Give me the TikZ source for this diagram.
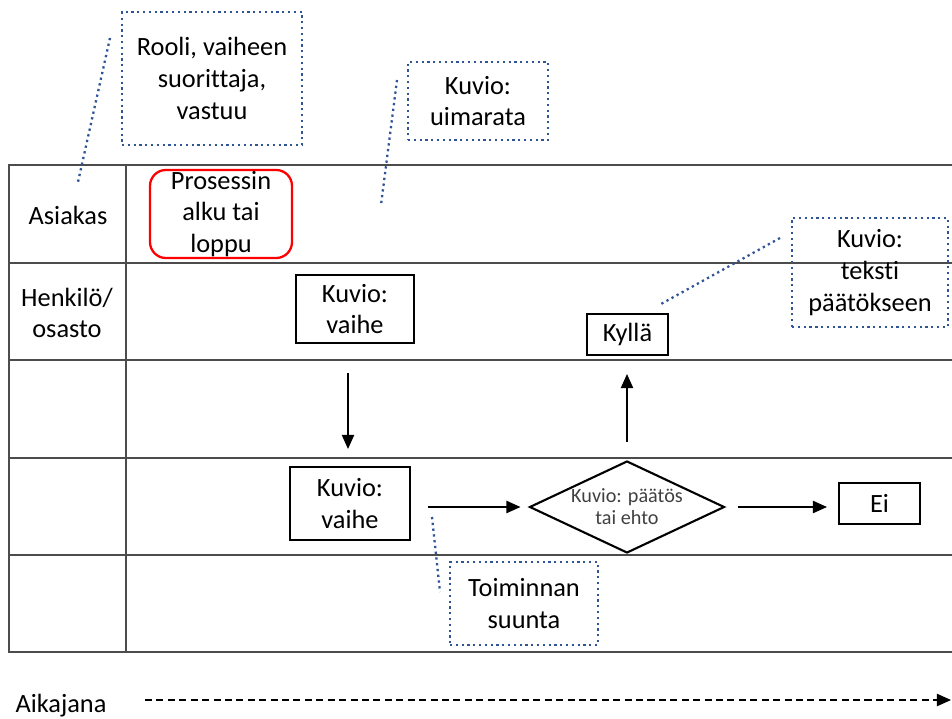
\documentclass[tikz,border=0pt]{standalone}
\usepackage{fontspec}
\setmainfont{Carlito}[Ligatures=NoCommon]
\usetikzlibrary{arrows.meta,shapes.geometric}

\definecolor{pisteet}{RGB}{47,85,151}

\tikzset{
  kaista/.style={draw=black!70, line width=1pt},
  teksti/.style={font=\fontsize{15}{18}\selectfont, align=center},
  vaihe/.style={teksti, draw, line width=1.2pt, inner sep=0pt},
  huomio/.style={teksti, draw=pisteet, dotted, line width=1.3pt, inner sep=0pt},
  viite/.style={draw=pisteet, dotted, line width=1.3pt},
  nuoli/.style={-{Triangle[length=8pt,width=7pt]}, line width=0.8pt},
}

\begin{document}
\begin{tikzpicture}[x=0.02cm, y=-0.02cm]
  \useasboundingbox (0,0) rectangle (952,719);

  % uimaradat
  \draw[kaista] (952,165) -- (9,165) -- (9,652) -- (952,652);
  \draw[kaista] (126,165) -- (126,652);
  \draw[kaista] (9,263) -- (952,263);
  \draw[kaista] (9,360) -- (952,360);
  \draw[kaista] (9,458) -- (952,458);
  \draw[kaista] (9,555) -- (952,555);

  \node[teksti] (asiakas) at (68,215) {Asiakas};
  \node[teksti] (henkilo) at (67,313) {Henkilö/\\osasto};

  \node[vaihe, draw=red, line width=1.3pt, rounded corners=9pt,
        minimum width=2.84cm, minimum height=1.76cm] (alku) at (221,214) {Prosessin\\alku tai\\loppu};

  \node[vaihe, minimum width=2.36cm, minimum height=1.36cm] (vaihe1) at (355,309) {Kuvio:\\vaihe};
  \node[vaihe, minimum width=2.4cm, minimum height=1.46cm] (vaihe2) at (350,503.5) {Kuvio:\\vaihe};
  \node[draw, diamond, aspect=2.16, line width=1.2pt, inner sep=0pt, align=center,
        minimum width=3.9cm, minimum height=1.84cm,
        font=\fontsize{11.5}{12.5}\selectfont, text=black!75] (paatos) at (627,507) {Kuvio: päätös\\tai ehto};
  \node[vaihe, minimum width=1.62cm, minimum height=0.82cm] (kylla) at (627.5,334.5) {Kyllä};
  \node[vaihe, minimum width=1.62cm, minimum height=0.82cm] (ei) at (879.5,503.5) {Ei};

  \draw[nuoli, shorten <=0.58cm, shorten >=0.34cm] ([xshift=-0.14cm]vaihe1.south) -- ([xshift=-0.14cm]vaihe1.south |- vaihe2.north);
  \draw[nuoli, shorten <=0.34cm, shorten >=0.16cm] (vaihe2.east |- paatos.west) -- (paatos.west);
  \draw[nuoli, shorten <=0.24cm, shorten >=0.22cm] (paatos.east) -- (paatos.east -| ei.west);
  \draw[nuoli, shorten <=0.36cm, shorten >=0.36cm] (paatos.north) -- (paatos.north |- kylla.south);

  % selitteet
  \node[huomio, minimum width=3.6cm, minimum height=2.66cm] (rooli) at (212,78.5) {Rooli, vaiheen\\suorittaja,\\vastuu};
  \node[huomio, minimum width=2.8cm, minimum height=1.56cm] (uimarata) at (478,101) {Kuvio:\\uimarata};
  \node[huomio, minimum width=3.12cm, minimum height=2.18cm] (paatosteksti) at (870,272.5) {Kuvio:\\teksti\\päätökseen};
  \node[huomio, minimum width=2.96cm, minimum height=1.66cm] (suunta) at (524,603.5) {Toiminnan\\suunta};

  \coordinate (r1) at (110,38);  \coordinate (r2) at (78,182);
  \coordinate (u1) at (397,80);  \coordinate (u2) at (381,205);
  \coordinate (p1) at (780,238); \coordinate (p2) at (661,304);
  \coordinate (s1) at (432,517); \coordinate (s2) at (440,592);
  \draw[viite] (r1) -- (r2);
  \draw[viite] (u1) -- (u2);
  \draw[viite] (p1) -- (p2);
  \draw[viite] (s1) -- (s2);

  \node[teksti] (aikajana) at (61,706) {Aikajana};
  \coordinate (aika0) at (145,700);
  \coordinate (aika1) at (951,700);
  \draw[dash pattern=on 4pt off 2.5pt, line width=0.7pt, -{Triangle[length=8pt,width=7pt]}]
    (aika0) -- (aika1);

\end{tikzpicture}
\end{document}
